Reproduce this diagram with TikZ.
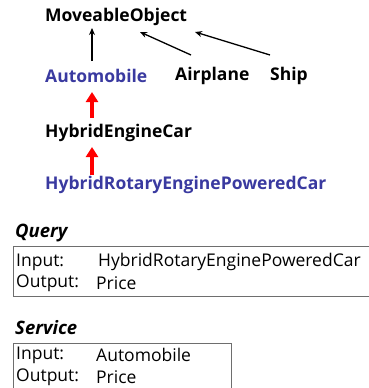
\documentclass[tikz,border=0pt]{standalone}
\usepackage{fontspec}
\setmainfont{Open Sans}
\usetikzlibrary{arrows.meta,positioning}
\definecolor{classblue}{RGB}{58,58,160}
\definecolor{boxgray}{RGB}{110,110,110}
\tikzset{
  cls/.style={font=\fontsize{17.5}{19}\selectfont\bfseries, inner sep=0pt, anchor=west},
  sub/.style={-{Stealth[length=7pt,width=6pt]}, line width=1.3pt},
  match/.style={-{Triangle[length=10pt,width=12pt]}, line width=4pt, red},
  head/.style={font=\fontsize{18.5}{20}\selectfont\bfseries\itshape, inner sep=0pt, anchor=west},
  row/.style={font=\fontsize{17.5}{19}\selectfont, inner sep=0pt, anchor=west},
  frame/.style={draw=boxgray, line width=0.8pt, inner sep=0pt, anchor=north west}
}
\begin{document}
\begin{tikzpicture}[x=1pt,y=1pt]
  \useasboundingbox (0,0) rectangle (369,-388);
  % class hierarchy
  \node[cls] (mo) at (45,-17) {MoveableObject};
  \node[cls, classblue] (auto) at (45,-76) {Automobile};
  \node[cls] (air) at (175,-76) {Airplane};
  \node[cls] (ship) at (270,-76) {Ship};
  \node[cls] (hec) at (45,-133) {HybridEngineCar};
  \node[cls, classblue] (hrep) at (45,-185) {HybridRotaryEnginePoweredCar};
  \draw[sub] ([shift={(47,15)}]auto.west) -- ([shift={(47,-11)}]mo.west);
  \draw[sub] ([shift={(16,21)}]air.west) -- ([shift={(95,-15)}]mo.west);
  \draw[sub] ([shift={(0,21)}]ship.west) -- ([shift={(150,-15)}]mo.west);
  \draw[match] ([shift={(47,15)}]hec.west) -- ([shift={(47,-16)}]auto.west);
  \draw[match] ([shift={(47,10)}]hrep.west) -- ([shift={(47,-14)}]hec.west);
  % query
  \node[head] (qhead) at (15,-233) {Query};
  \node[frame, minimum width=356pt, minimum height=50pt] (qbox) at (13,-246) {};
  \node[row] (qin) at (16,-262) {Input:};
  \node[row] (qinv) at (98,-262) {HybridRotaryEnginePoweredCar};
  \node[row] (qout) at (16,-283) {Output:};
  \node[row] (qoutv) at (96,-283) {Price};
  % service
  \node[head] (shead) at (15,-328) {Service};
  \node[frame, minimum width=218pt, minimum height=46pt] (sbox) at (13,-343) {};
  \node[row] (sin) at (16,-355) {Input:};
  \node[row] (sinv) at (96,-355) {Automobile};
  \node[row] (sout) at (16,-377) {Output:};
  \node[row] (soutv) at (96,-377) {Price};
\end{tikzpicture}
\end{document}
